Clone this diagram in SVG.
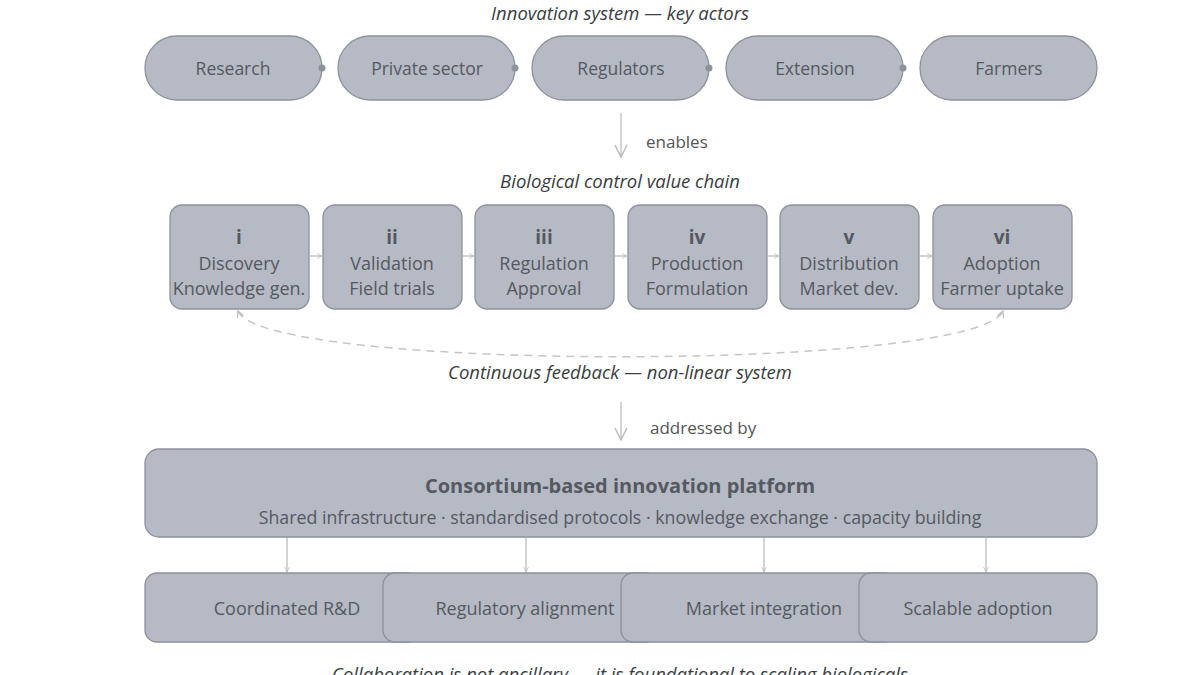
<svg xmlns="http://www.w3.org/2000/svg" width="1200" height="675" viewBox="0 0 1200 675">
<defs>
<style>
.node{fill:#b6bac4;stroke:#8d9199;stroke-width:1.3}
.t{font-family:"Open Sans","Noto Sans",sans-serif;fill:#555960;text-anchor:middle}
.it{font-family:"Open Sans","Noto Sans",sans-serif;font-style:italic;fill:#3a3d42;text-anchor:middle;font-size:18.5px}
.lab{font-family:"Open Sans","Noto Sans",sans-serif;fill:#555;font-size:17px}
.conn{stroke:#c4c6ca;stroke-width:1.5;fill:none}
.dot{fill:#8d9199}
</style>
<marker id="arr" viewBox="0 0 10 10" refX="9" refY="5" markerWidth="8" markerHeight="8" orient="auto-start-reverse" markerUnits="userSpaceOnUse">
<path d="M1,1 L9,5 L1,9" fill="none" stroke="#b8babe" stroke-width="1.5"/>
</marker>
<marker id="arrs" viewBox="0 0 10 10" refX="9" refY="5" markerWidth="6" markerHeight="6" orient="auto-start-reverse" markerUnits="userSpaceOnUse">
<path d="M1,1 L9,5 L1,9" fill="none" stroke="#c0c2c6" stroke-width="1.5"/>
</marker>
<marker id="arrl" viewBox="0 0 14 14" refX="13" refY="7" markerWidth="14" markerHeight="14" orient="auto" markerUnits="userSpaceOnUse">
<path d="M1,1 L13,7 L1,13" fill="none" stroke="#b8babe" stroke-width="1.5"/>
</marker>
</defs>
<rect width="1200" height="675" fill="#ffffff"/>

<text class="it" x="620" y="20">Innovation system — key actors</text>

<g id="actor-research"><rect class="node" x="145" y="36" width="177" height="64" rx="32"/><text class="t" x="233" y="75" font-size="17.5">Research</text></g>
<g id="actor-private"><rect class="node" x="338" y="36" width="177" height="64" rx="32"/><text class="t" x="427" y="75" font-size="17.5">Private sector</text></g>
<g id="actor-regulators"><rect class="node" x="532" y="36" width="177" height="64" rx="32"/><text class="t" x="621" y="75" font-size="17.5">Regulators</text></g>
<g id="actor-extension"><rect class="node" x="726" y="36" width="177" height="64" rx="32"/><text class="t" x="815" y="75" font-size="17.5">Extension</text></g>
<g id="actor-farmers"><rect class="node" x="920" y="36" width="177" height="64" rx="32"/><text class="t" x="1009" y="75" font-size="17.5">Farmers</text></g>

<g id="connectors">
<circle class="dot" cx="322" cy="68" r="3.5"/>
<circle class="dot" cx="515" cy="68" r="3.5"/>
<circle class="dot" cx="709" cy="68" r="3.5"/>
<circle class="dot" cx="903" cy="68" r="3.5"/>
<line class="conn" x1="621" y1="113" x2="621" y2="157" marker-end="url(#arrl)"/>
<line class="conn" x1="310" y1="256" x2="322" y2="256" marker-end="url(#arrs)"/>
<line class="conn" x1="463" y1="256" x2="474" y2="256" marker-end="url(#arrs)"/>
<line class="conn" x1="615" y1="256" x2="627" y2="256" marker-end="url(#arrs)"/>
<line class="conn" x1="768" y1="256" x2="779" y2="256" marker-end="url(#arrs)"/>
<line class="conn" x1="920" y1="256" x2="932" y2="256" marker-end="url(#arrs)"/>
<path class="conn" d="M238,311 C262,372 978,372 1003,311" stroke-dasharray="8,6" marker-start="url(#arr)" marker-end="url(#arr)"/>
<line class="conn" x1="621" y1="402" x2="621" y2="440" marker-end="url(#arrl)"/>
<line class="conn" x1="287" y1="538" x2="287" y2="572" marker-end="url(#arrs)"/>
<line class="conn" x1="526" y1="538" x2="526" y2="572" marker-end="url(#arrs)"/>
<line class="conn" x1="764" y1="538" x2="764" y2="572" marker-end="url(#arrs)"/>
<line class="conn" x1="986" y1="538" x2="986" y2="572" marker-end="url(#arrs)"/>
</g>

<text class="lab" x="646" y="148">enables</text>

<text class="it" x="620" y="188">Biological control value chain</text>

<g id="stage-i"><rect class="node" x="170" y="205" width="139" height="104" rx="12"/><text class="t" x="239" y="244" font-size="19" font-weight="bold" fill="#3a3d42">i</text><text class="t" x="239" y="270" font-size="18">Discovery</text><text class="t" x="239" y="295" font-size="18">Knowledge gen.</text></g>
<g id="stage-ii"><rect class="node" x="323" y="205" width="139" height="104" rx="12"/><text class="t" x="392" y="244" font-size="19" font-weight="bold" fill="#3a3d42">ii</text><text class="t" x="392" y="270" font-size="18">Validation</text><text class="t" x="392" y="295" font-size="18">Field trials</text></g>
<g id="stage-iii"><rect class="node" x="475" y="205" width="139" height="104" rx="12"/><text class="t" x="544" y="244" font-size="19" font-weight="bold" fill="#3a3d42">iii</text><text class="t" x="544" y="270" font-size="18">Regulation</text><text class="t" x="544" y="295" font-size="18">Approval</text></g>
<g id="stage-iv"><rect class="node" x="628" y="205" width="139" height="104" rx="12"/><text class="t" x="697" y="244" font-size="19" font-weight="bold" fill="#3a3d42">iv</text><text class="t" x="697" y="270" font-size="18">Production</text><text class="t" x="697" y="295" font-size="18">Formulation</text></g>
<g id="stage-v"><rect class="node" x="780" y="205" width="139" height="104" rx="12"/><text class="t" x="849" y="244" font-size="19" font-weight="bold" fill="#3a3d42">v</text><text class="t" x="849" y="270" font-size="18">Distribution</text><text class="t" x="849" y="295" font-size="18">Market dev.</text></g>
<g id="stage-vi"><rect class="node" x="933" y="205" width="139" height="104" rx="12"/><text class="t" x="1002" y="244" font-size="19" font-weight="bold" fill="#3a3d42">vi</text><text class="t" x="1002" y="270" font-size="18">Adoption</text><text class="t" x="1002" y="295" font-size="18">Farmer uptake</text></g>

<text class="it" x="620" y="379">Continuous feedback — non-linear system</text>

<text class="lab" x="650" y="434">addressed by</text>

<g id="platform"><rect class="node" x="145" y="449" width="952" height="88" rx="14"/><text class="t" x="620" y="493" font-size="20" font-weight="bold" fill="#33363b">Consortium-based innovation platform</text><text class="t" x="620" y="524" font-size="17.8">Shared infrastructure · standardised protocols · knowledge exchange · capacity building</text></g>

<g id="out-rd"><rect class="node" x="145" y="573" width="275" height="69" rx="12"/><text class="t" x="287" y="615" font-size="18">Coordinated R&amp;D</text></g>
<g id="out-reg"><rect class="node" x="383" y="573" width="275" height="69" rx="12"/><text class="t" x="525" y="615" font-size="18">Regulatory alignment</text></g>
<g id="out-market"><rect class="node" x="621" y="573" width="275" height="69" rx="12"/><text class="t" x="764" y="615" font-size="18">Market integration</text></g>
<g id="out-scale"><rect class="node" x="859" y="573" width="238" height="69" rx="12"/><text class="t" x="978" y="615" font-size="18">Scalable adoption</text></g>

<text class="it" x="620" y="681" font-size="18.5">Collaboration is not ancillary — it is foundational to scaling biologicals</text>
</svg>
